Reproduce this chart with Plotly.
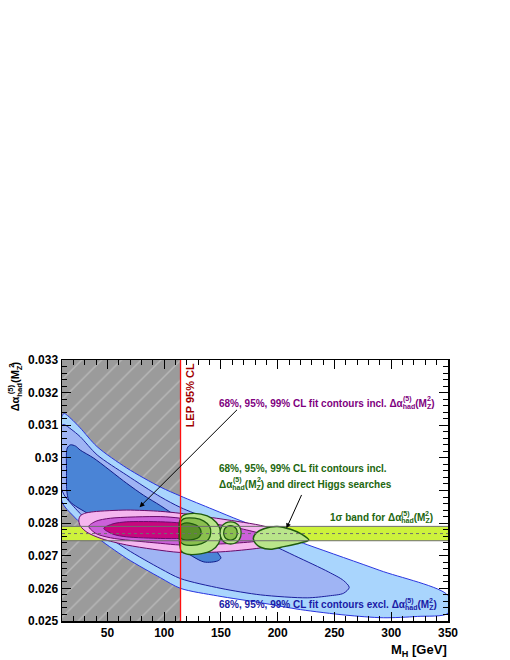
import plotly.graph_objects as go

# ---------------- axes ----------------
MH_RANGE = [10, 350]
DA_RANGE = [0.025, 0.033]
x_tickvals = [50, 100, 150, 200, 250, 300, 350]
y_tickvals = [0.025, 0.026, 0.027, 0.028, 0.029, 0.030, 0.031, 0.032, 0.033]
y_ticktext = ["0.025", "0.026", "0.027", "0.028", "0.029", "0.03", "0.031", "0.032", "0.033"]

LEP_LIMIT = 114.4
DA_CENTRAL = 0.02768
DA_SIGMA = 0.00022

# ---------------- contours excl. Delta alpha_had (blue) ----------------
blue99_mh = [10, 12, 18, 26, 41, 67, 97, 114.4, 143, 167, 226, 290, 350,
             350, 323, 293, 260, 220, 185, 147, 114.4, 97, 67, 38, 20, 10]
blue99_da = [0.03128, 0.03136, 0.03120, 0.03092, 0.03034, 0.02969, 0.02910, 0.02883, 0.02842, 0.02808, 0.02734, 0.02655, 0.02578,
             0.02524, 0.02514, 0.02510, 0.02518, 0.02535, 0.02556, 0.02577, 0.02600, 0.02632, 0.02692, 0.02764, 0.02822, 0.02866]

blue95_mh = [10, 12, 18, 26, 41, 67, 97, 114.4, 140, 167, 215, 245, 258, 263,
             258, 245, 226, 185, 150, 114.4, 97, 67, 38, 20, 10]
blue95_da = [0.03100, 0.03102, 0.03088, 0.03065, 0.03009, 0.02947, 0.02880, 0.02848, 0.02812, 0.02778, 0.02700, 0.02650, 0.02624, 0.02603,
             0.02585, 0.02577, 0.02571, 0.02580, 0.02600, 0.02630, 0.02660, 0.02720, 0.02790, 0.02852, 0.02900]

blue68_mh = [14.6, 17.5, 22, 26, 38, 67, 82, 97, 114.4, 130, 142, 148, 150,
             147, 135, 114.4, 80, 50, 32, 22, 16, 14.2, 14]
blue68_da = [0.03030, 0.03040, 0.03036, 0.03024, 0.02999, 0.02922, 0.02885, 0.02853, 0.02812, 0.02772, 0.02730, 0.02705, 0.02693,
             0.02684, 0.02681, 0.02718, 0.02750, 0.02790, 0.02831, 0.02852, 0.02870, 0.02900, 0.02960]

# ---------------- contours incl. Delta alpha_had (magenta) ----------------
pink99_mh = [24.8, 26, 30, 38, 67, 97, 114.4, 140, 165, 185, 200, 212,
             205, 185, 150, 114.4, 90, 67, 45, 32, 26]
pink99_da = [0.02810, 0.02822, 0.02830, 0.02835, 0.02840, 0.02836, 0.02830, 0.02818, 0.02805, 0.02793, 0.02778, 0.02752,
             0.02738, 0.02724, 0.02712, 0.02710, 0.02720, 0.02733, 0.02752, 0.02772, 0.02792]

pink95_mh = [33.6, 40, 52.7, 97, 114.4, 140, 165, 185, 195,
             185, 160, 114.4, 97, 70, 52.7, 40]
pink95_da = [0.02790, 0.02806, 0.02815, 0.02820, 0.02815, 0.02800, 0.02785, 0.02768, 0.02755,
             0.02746, 0.02738, 0.02733, 0.02738, 0.02747, 0.02755, 0.02768]

pink68_mh = [46.8, 55, 67, 97, 114.4, 125, 133, 125, 114.4, 97, 67, 55]
pink68_da = [0.02784, 0.02798, 0.02804, 0.02804, 0.02800, 0.02790, 0.02770, 0.02756, 0.02753, 0.02753, 0.02758, 0.02766]

# ---------------- contours incl. direct Higgs searches (green) ----------------
green99_main_mh = [113.5, 113, 113.5, 116, 126, 138, 146, 150, 148, 142, 132, 120, 115]
green99_main_da = [0.02740, 0.02770, 0.02805, 0.02822, 0.02830, 0.02822, 0.02802, 0.02770, 0.02738, 0.02717, 0.02706, 0.02705, 0.02714]

green99_ring_mh = [149.2, 150.7, 154.3, 158.5, 162.7, 166.3, 167.8, 166.3, 162.7, 158.5, 154.3, 150.7]
green99_ring_da = [0.02770, 0.02790, 0.02801, 0.02804, 0.02801, 0.02790, 0.02770, 0.02750, 0.02739, 0.02736, 0.02739, 0.02750]

green99_island_mh = [178.5, 181, 187.8, 199.6, 211.3, 221, 227.4, 223, 217.2, 205.4, 193.7, 184.8, 180.4]
green99_island_da = [0.02753, 0.02770, 0.02783, 0.02790, 0.02781, 0.02766, 0.02748, 0.02742, 0.02737, 0.02728, 0.02720, 0.02726, 0.02738]

green95_main_mh = [114, 113.7, 114, 117, 127, 135, 140, 141, 139, 133, 124, 117]
green95_main_da = [0.02745, 0.02775, 0.02800, 0.02813, 0.02815, 0.02806, 0.02790, 0.02770, 0.02750, 0.02737, 0.02732, 0.02735]

green95_ring_mh = [152.4, 153.4, 155.8, 158.4, 161.0, 163.4, 164.4, 163.4, 161.0, 158.4, 155.8, 153.4]
green95_ring_da = [0.02770, 0.02783, 0.02790, 0.02792, 0.02790, 0.02783, 0.02770, 0.02757, 0.02750, 0.02748, 0.02750, 0.02757]

green68_main_mh = [114.4, 114.2, 114.6, 118, 125, 130, 132.5, 131, 126, 119]
green68_main_da = [0.02755, 0.02776, 0.02794, 0.02800, 0.02798, 0.02790, 0.02774, 0.02758, 0.02750, 0.02748]

# ---------------- layout helpers ----------------
FONT = "Liberation Sans"
W_PX, H_PX = 510, 660
M_L, M_R, M_T, M_B = 62, 62, 360, 39
PLOT_W = W_PX - M_L - M_R
PLOT_H = H_PX - M_T - M_B
ASC = 0.905  # font ascent (em)

# approximate advance widths of Liberation Sans Bold (1/1000 em)
GLYPH_W = {" ": 278, "%": 889, ",": 278, ".": 278, "(": 333, ")": 333, "[": 333, "]": 333,
           "C": 722, "G": 778, "H": 722, "L": 611, "M": 833, "Z": 611, "V": 667, "E": 667, "P": 667,
           "a": 556, "b": 611, "c": 556, "d": 611, "e": 556, "f": 333, "g": 611, "h": 611, "i": 278,
           "l": 278, "n": 611, "o": 611, "r": 389, "s": 556, "t": 333, "u": 611, "x": 556, "v": 556,
           "Δ": 722, "α": 611, "σ": 611}


def tw(s, size):
    return sum(GLYPH_W.get(c, 556) for c in s) / 1000.0 * size


def px2mh(px):
    return MH_RANGE[0] + (px - M_L) / PLOT_W * (MH_RANGE[1] - MH_RANGE[0])


def py2da(py):
    return DA_RANGE[1] - (py - M_T) / PLOT_H * (DA_RANGE[1] - DA_RANGE[0])


fig = go.Figure()


def region(mh, da, fill, line_color, lw=1.0):
    fig.add_trace(go.Scatter(
        x=list(mh) + [mh[0]], y=list(da) + [da[0]],
        mode="lines", fill="toself", fillcolor=fill,
        line=dict(color=line_color, width=lw, shape="spline", smoothing=0.8),
        hoverinfo="skip", showlegend=False))


# LEP excluded region (hatched grey)
fig.add_trace(go.Scatter(
    x=[MH_RANGE[0], LEP_LIMIT, LEP_LIMIT, MH_RANGE[0], MH_RANGE[0]],
    y=[DA_RANGE[0], DA_RANGE[0], DA_RANGE[1], DA_RANGE[1], DA_RANGE[0]],
    mode="lines", fill="toself", fillcolor="#9b9b9b",
    fillpattern=dict(shape="/", bgcolor="#9b9b9b", fgcolor="#d6d6d6", size=14, solidity=0.1),
    line=dict(width=0), hoverinfo="skip", showlegend=False))

# blue
region(blue99_mh, blue99_da, "#a9d5fd", "#2a35e0")
region(blue95_mh, blue95_da, "#9fb4f4", "#1b1f9e")
region(blue68_mh, blue68_da, "#4a84d6", "#101c8a")

# 1 sigma band fill
band_lo = DA_CENTRAL - DA_SIGMA
band_hi = DA_CENTRAL + DA_SIGMA
fig.add_trace(go.Scatter(
    x=[MH_RANGE[0], MH_RANGE[1], MH_RANGE[1], MH_RANGE[0], MH_RANGE[0]],
    y=[band_lo, band_lo, band_hi, band_hi, band_lo],
    mode="lines", fill="toself", fillcolor="#cdf23c", line=dict(width=0),
    hoverinfo="skip", showlegend=False))

# magenta
region(pink99_mh, pink99_da, "#f5b6ef", "#6a0b6a")
region(pink95_mh, pink95_da, "#cc60da", "#6a0b6a")
region(pink68_mh, pink68_da, "#c8067f", "#6a0b6a")

# green
region(green99_main_mh, green99_main_da, "#b9e58a", "#1e5a0e", 1.3)
region(green99_ring_mh, green99_ring_da, "#b9e58a", "#1e5a0e", 1.3)
region(green99_island_mh, green99_island_da, "#b9e58a", "#1e5a0e", 1.5)
region(green95_main_mh, green95_main_da, "#8ac04e", "#1e5a0e", 1.3)
region(green95_ring_mh, green95_ring_da, "#8ac04e", "#1e5a0e", 1.3)
region(green68_main_mh, green68_main_da, "#5a8f2a", "#1e5a0e", 1.3)

# band edges and central value
for v, dash in [(band_lo, "solid"), (band_hi, "solid"), (DA_CENTRAL, "dot")]:
    fig.add_trace(go.Scatter(
        x=MH_RANGE, y=[v, v], mode="lines",
        line=dict(color="#6e6e6e", width=1, dash=dash),
        hoverinfo="skip", showlegend=False))

# LEP line
fig.add_trace(go.Scatter(
    x=[LEP_LIMIT, LEP_LIMIT], y=DA_RANGE, mode="lines",
    line=dict(color="#ff1010", width=1.3), hoverinfo="skip", showlegend=False))

# ---------------- annotations ----------------
ann = []


def stacked_text(x_px, base_px, prefix, suffix, color, size=10):
    """Text containing Delta alpha_had^(5)(M_Z^2) with stacked sub/superscripts."""
    sub = 0.7 * size
    main = prefix + "Δα<sub>had</sub>(M<sub>Z</sub>)" + suffix
    ann.append(dict(x=px2mh(x_px), y=py2da(base_px - ASC * size), xref="x", yref="y",
                    xanchor="left", yanchor="top", text=main, showarrow=False, borderpad=0,
                    font=dict(family=FONT, size=size, color=color, weight="bold")))
    off1 = tw(prefix + "Δα", size)
    off2 = off1 + tw("had", sub) + tw("(M", size)
    sup_top = base_px - 0.5 * size - ASC * sub
    for txt, off in [("(5)", off1), ("2", off2)]:
        ann.append(dict(x=px2mh(x_px), y=py2da(sup_top), xref="x", yref="y", xshift=off,
                        xanchor="left", yanchor="top", text=txt, showarrow=False, borderpad=0,
                        font=dict(family=FONT, size=sub, color=color, weight="bold")))


def plain_text(x_px, base_px, text, color, size=10):
    ann.append(dict(x=px2mh(x_px), y=py2da(base_px - ASC * size), xref="x", yref="y",
                    xanchor="left", yanchor="top", text=text, showarrow=False, borderpad=0,
                    font=dict(family=FONT, size=size, color=color, weight="bold")))


PURPLE, GREEN, BLUE = "#800080", "#22660e", "#1a1aa6"
stacked_text(218.3, 405.6, "68%, 95%, 99% CL fit contours incl. ", "", PURPLE)
plain_text(218.3, 471.0, "68%, 95%, 99% CL fit contours incl.", GREEN)
stacked_text(218.3, 486.7, "", " and direct Higgs searches", GREEN)
stacked_text(329.0, 520.0, "1σ band for ", "", GREEN)
stacked_text(218.0, 607.3, "68%, 95%, 99% CL fit contours excl. ", "", BLUE)

# LEP label (rotated)
ann.append(dict(x=px2mh(193.3 - ASC * 11), y=py2da(428), xref="x", yref="y",
                xanchor="left", yanchor="bottom", text="LEP 95% CL", textangle=-90,
                showarrow=False, borderpad=0,
                font=dict(family=FONT, size=11, color="#a00000", weight="bold")))

# arrows
ann.append(dict(x=78.3, y=0.02849, ax=165.5, ay=0.03152, xref="x", yref="y", axref="x", ayref="y",
                text="", showarrow=True, arrowhead=2, arrowsize=1, arrowwidth=1, arrowcolor="black", standoff=0))
ann.append(dict(x=207.7, y=0.02784, ax=221.6, ay=0.02891, xref="x", yref="y", axref="x", ayref="y",
                text="", showarrow=True, arrowhead=2, arrowsize=1, arrowwidth=1, arrowcolor="black", standoff=0))

# y axis title (rotated, stacked scripts)
YT = 11
YT_SUB = 0.7 * YT
YT_BASE_X = 18.3
main_len = tw("Δα", YT) + tw("had", YT_SUB) + tw("(M", YT) + tw("Z", YT_SUB) + tw(")", YT)
ann.append(dict(x=0, y=1, xref="paper", yref="paper", xanchor="left", yanchor="top",
                xshift=(YT_BASE_X - ASC * YT) - M_L, textangle=-90, borderpad=0,
                text="Δα<sub>had</sub>(M<sub>Z</sub>)", showarrow=False,
                font=dict(family=FONT, size=YT, color="black", weight="bold")))
o1 = tw("Δα", YT)
o2 = o1 + tw("had", YT_SUB) + tw("(M", YT)
for txt, off in [("(5)", o1), ("2", o2)]:
    ann.append(dict(x=0, y=1, xref="paper", yref="paper", xanchor="left", yanchor="bottom",
                    xshift=(YT_BASE_X - 0.5 * YT - ASC * YT_SUB) - M_L, yshift=-(main_len - off),
                    textangle=-90, borderpad=0, text=txt, showarrow=False,
                    font=dict(family=FONT, size=YT_SUB, color="black", weight="bold")))

# x axis title
ann.append(dict(x=1, y=0, xref="paper", yref="paper", xanchor="right", yanchor="top", yshift=-20,
                text="M<sub>H</sub> [GeV]", showarrow=False, borderpad=0,
                font=dict(family=FONT, size=13, color="black", weight="bold")))

fig.update_layout(
    width=W_PX, height=H_PX,
    margin=dict(l=M_L, r=M_R, t=M_T, b=M_B),
    paper_bgcolor="white", plot_bgcolor="white",
    annotations=ann, showlegend=False,
    font=dict(family=FONT, color="black"),
)
fig.update_xaxes(
    range=MH_RANGE, tickmode="array", tickvals=x_tickvals,
    ticks="inside", ticklen=9, tickwidth=1, tickcolor="black",
    showline=True, linecolor="black", linewidth=1.5, mirror="ticks",
    showgrid=False, zeroline=False,
    tickfont=dict(family=FONT, size=12, color="black", weight="bold"),
    minor=dict(tickmode="linear", tick0=0, dtick=10, ticks="inside", ticklen=5, tickcolor="black", showgrid=False),
)
fig.update_yaxes(
    range=DA_RANGE, tickmode="array", tickvals=y_tickvals, ticktext=y_ticktext,
    ticks="inside", ticklen=9, tickwidth=1, tickcolor="black",
    showline=True, linecolor="black", linewidth=1.5, mirror="ticks",
    showgrid=False, zeroline=False,
    tickfont=dict(family=FONT, size=12, color="black", weight="bold"),
    minor=dict(tickmode="linear", tick0=0.025, dtick=0.0002, ticks="inside", ticklen=5, tickcolor="black", showgrid=False),
)

# remove the default 8px page margin so the figure fills the window exactly
fig.write_html("out.html", config={"displayModeBar": False, "staticPlot": True},
               post_script="document.body.style.margin='0';document.body.style.overflow='hidden';")
